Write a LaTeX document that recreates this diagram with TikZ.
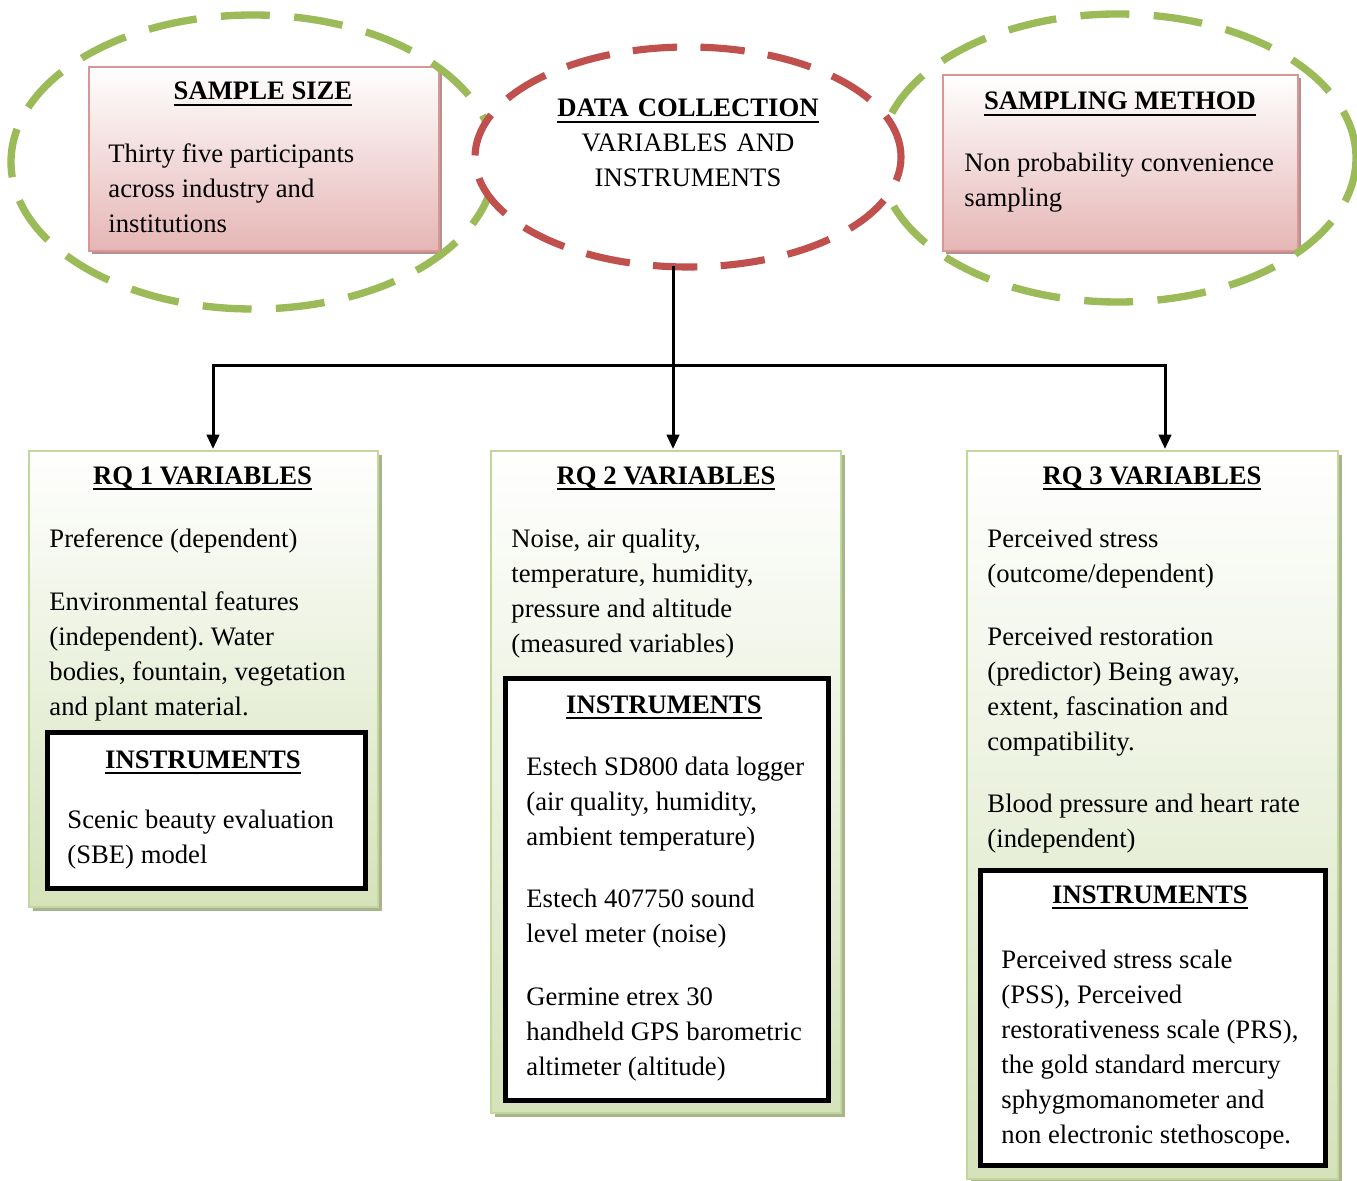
\documentclass[tikz,border=0pt]{standalone}
\usepackage{fontspec}
\setmainfont{Liberation Serif}
\usetikzlibrary{arrows.meta,shapes.geometric,shadows}
\definecolor{ogreen}{HTML}{9BBB59}
\definecolor{ored}{HTML}{C0504D}
\definecolor{pinkedge}{HTML}{D99694}
\definecolor{pinkfill}{HTML}{E5B6B5}
\definecolor{pinkshadow}{HTML}{B39191}
\definecolor{gedge}{HTML}{C3D69B}
\definecolor{gfill}{HTML}{D5E2BA}
\definecolor{gshadow}{HTML}{A8B48C}
\newcommand{\myul}[1]{\setbox0\hbox{#1}\rlap{\rule[-2.7pt]{\wd0}{0.9pt}}\box0}
\newcommand{\ttl}[1]{\myul{\textbf{#1}}}
\frenchspacing
\tikzset{
  txt/.style={font=\fontsize{12}{15.75}\selectfont\frenchspacing, inner sep=0pt},
  body/.style={txt, anchor=base west, align=left, text width=175pt,
    execute at begin node={\spaceskip=0pt\xspaceskip=0pt\relax}},
  titletxt/.style={txt, anchor=base, align=center},
  pinkbox/.style={draw=pinkedge, line width=0.9pt, top color=white, bottom color=pinkfill,
    anchor=north west, inner sep=0pt,
    general shadow={shadow xshift=1.4pt, shadow yshift=-1.4pt, fill=pinkshadow}},
  greenbox/.style={draw=gedge, line width=0.9pt, top color=white, bottom color=gfill,
    anchor=north west, inner sep=0pt,
    general shadow={shadow xshift=1.6pt, shadow yshift=-1.6pt, fill=gshadow}},
  instbox/.style={draw=black, line width=2.25pt, fill=white, anchor=north west, inner sep=0pt},
  gell/.style={ellipse, draw=ogreen, line width=3.3pt, dash pattern=on 22pt off 11pt, inner sep=0pt},
  rell/.style={ellipse, draw=ored, fill=white, line width=3.2pt, dash pattern=on 20pt off 10.5pt, inner sep=0pt},
  conn/.style={line width=1.35pt, draw=black},
  arr/.style={conn, -{Triangle[width=5.6pt,length=6.5pt]}}
}
\begin{document}
\begin{tikzpicture}[x=0.45pt,y=-0.45pt]
\fill[white] (0,0) rectangle (1357,1180);
\useasboundingbox (0,0) rectangle (1357,1180);

% top boxes
\node[pinkbox, minimum width=157.5pt, minimum height=82.8pt] (ssbox) at (88,66) {};
\node[pinkbox, minimum width=159.75pt, minimum height=79.2pt] (smbox) at (942,74) {};

% green ellipses
\node[gell, minimum width=217.8pt, minimum height=132.3pt] (gl) at (253,162) {};
\node[gell, minimum width=214.2pt, minimum height=129.6pt] (gr) at (1118,158) {};

% red ellipse
\node[rell, minimum width=191.7pt, minimum height=99pt] (dc) at (688,157) {};

% texts top
\node[titletxt] (sst) at (263,100) {\ttl{SAMPLE SIZE}};
\node[body] (ssb) at (108,163) {Thirty five participants\\across industry and\\institutions};
\node[titletxt] (smt) at (1120,110) {\ttl{SAMPLING METHOD}};
\node[body] (smb) at (964,172) {Non probability convenience\\sampling};
\node[titletxt, text width=180pt] (dct) at (688,117) {\ttl{DATA COLLECTION}\\VARIABLES AND\\INSTRUMENTS};

% RQ boxes
\node[greenbox, minimum width=157.05pt, minimum height=205.2pt] (rq1) at (28,450) {};
\node[greenbox, minimum width=157.5pt, minimum height=297.9pt] (rq2) at (490,450) {};
\node[greenbox, minimum width=166.95pt, minimum height=327.6pt] (rq3) at (966,450) {};

\node[instbox, minimum width=143.1pt, minimum height=70.2pt] (in1) at (44.5,729.5) {};
\node[instbox, minimum width=145.35pt, minimum height=189.9pt] (in2) at (502.5,675.5) {};
\node[instbox, minimum width=155.25pt, minimum height=132.75pt] (in3) at (977.5,867.5) {};

% connectors
\coordinate (top) at (673,266);
\coordinate (j2) at (673,365);
\coordinate (a1) at (213,449);
\coordinate (a2) at (673,449);
\coordinate (a3) at (1165,449);
\draw[arr] (top) -- (a2);
\draw[arr] (j2) -| (a1);
\draw[arr] (j2) -| (a3);

% RQ1 text
\node[titletxt] (r1t) at (202.5,484) {\ttl{RQ 1 VARIABLES}};
\node[body] (r1a) at (49,547) {Preference (dependent)};
\node[body] (r1b) at (49,610) {Environmental features\\(independent). Water\\bodies, fountain, vegetation\\and plant material.};
\node[titletxt] (i1t) at (203,768) {\ttl{INSTRUMENTS}};
\node[body] (i1a) at (67,828) {Scenic beauty evaluation\\(SBE) model};

% RQ2 text
\node[titletxt] (r2t) at (666,484) {\ttl{RQ 2 VARIABLES}};
\node[body] (r2a) at (511,547) {Noise, air quality,\\temperature, humidity,\\pressure and altitude\\(measured variables)};
\node[titletxt] (i2t) at (664,713) {\ttl{INSTRUMENTS}};
\node[body] (i2a) at (526,775) {Estech SD800 data logger\\(air quality, humidity,\\ambient temperature)};
\node[body] (i2b) at (526,907) {Estech 407750 sound\\level meter (noise)};
\node[body] (i2c) at (526,1005) {Germine etrex 30\\handheld GPS barometric\\altimeter (altitude)};

% RQ3 text
\node[titletxt] (r3t) at (1152,484) {\ttl{RQ 3 VARIABLES}};
\node[body] (r3a) at (987,547) {Perceived stress\\(outcome/dependent)};
\node[body] (r3b) at (987,645) {Perceived restoration\\(predictor) Being away,\\extent, fascination and\\compatibility.};
\node[body] (r3c) at (987,812) {Blood pressure and heart rate\\(independent)};
\node[titletxt] (i3t) at (1150,903) {\ttl{INSTRUMENTS}};
\node[body] (i3a) at (1001,968) {Perceived stress scale\\(PSS), Perceived\\restorativeness scale (PRS),\\the gold standard mercury\\sphygmomanometer and\\non electronic stethoscope.};
\end{tikzpicture}
\end{document}
